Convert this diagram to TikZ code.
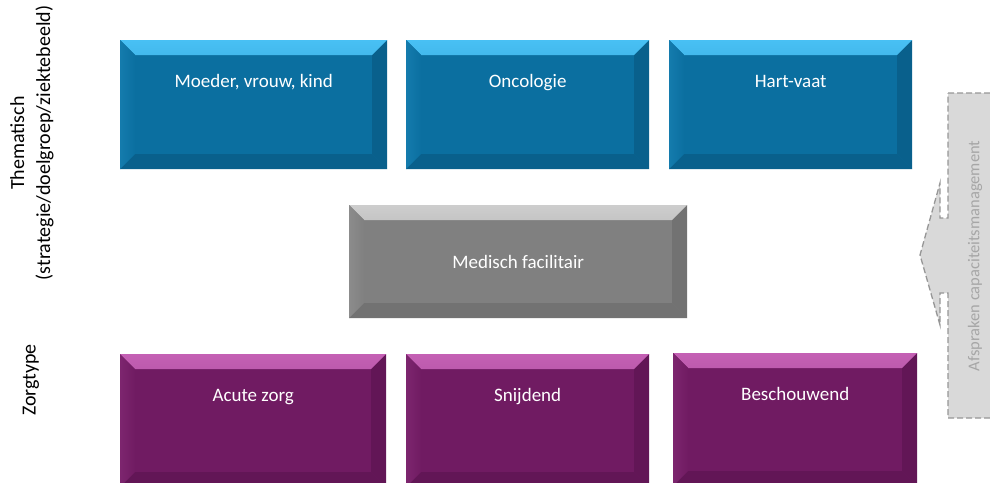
\documentclass[tikz,border=0pt]{standalone}
\usepackage{fontspec}
\setmainfont{Carlito}
\definecolor{blauw}{RGB}{11,111,160}
\definecolor{blauwlicht}{RGB}{72,192,244}
\definecolor{blauwdonker}{RGB}{9,96,140}
\definecolor{paars}{RGB}{112,27,98}
\definecolor{paarslicht}{RGB}{196,96,180}
\definecolor{paarsdonker}{RGB}{98,22,86}
\definecolor{grijs}{RGB}{128,128,128}
\definecolor{grijslicht}{RGB}{205,205,205}
\definecolor{grijsdonker}{RGB}{114,114,114}
\definecolor{pijl}{RGB}{217,217,217}
\definecolor{pijlrand}{RGB}{150,150,150}
\begin{document}
\begin{tikzpicture}[x=1pt,y=-1pt,
    bevel/.style n args={3}{fill=#1, draw=none, inner sep=0pt, text=white,
      path picture={
        \shade[top color=#2, bottom color=#1!75!#2]
          (path picture bounding box.north west)--(path picture bounding box.north east)
          --([shift={(-15pt,-15pt)}]path picture bounding box.north east)
          --([shift={(15pt,-15pt)}]path picture bounding box.north west)--cycle;
        \shade[left color=#1!85!#2, right color=#1]
          (path picture bounding box.north west)--([shift={(15pt,-15pt)}]path picture bounding box.north west)
          --([shift={(15pt,15pt)}]path picture bounding box.south west)--(path picture bounding box.south west)--cycle;
        \fill[#3]
          (path picture bounding box.north east)--(path picture bounding box.south east)
          --([shift={(-15pt,15pt)}]path picture bounding box.south east)
          --([shift={(-15pt,-15pt)}]path picture bounding box.north east)--cycle;
        \fill[#3]
          (path picture bounding box.south west)--(path picture bounding box.south east)
          --([shift={(-15pt,15pt)}]path picture bounding box.south east)
          --([shift={(15pt,15pt)}]path picture bounding box.south west)--cycle;
      }},
    blok/.style={bevel={blauw}{blauwlicht}{blauwdonker}, anchor=north west, text height=47pt, text depth=82pt},
    zorg/.style={bevel={paars}{paarslicht}{paarsdonker}, anchor=north west, text height=47pt, text depth=86pt},
    facil/.style={bevel={grijs}{grijslicht}{grijsdonker}, anchor=north west, minimum height=113pt},
    opschrift/.style={rotate=90, align=center, font=\fontsize{20}{26}\selectfont}]
  \useasboundingbox (0,0) rectangle (990,482);
  \clip (0,0) rectangle (990,482);
  \fontsize{19}{22}\selectfont
  % thematisch
  \node[blok, minimum width=267pt] (moeder) at (120,40) {Moeder, vrouw, kind};
  \node[blok, minimum width=243pt] (onco) at (406,40) {Oncologie};
  \node[blok, minimum width=243pt] (hart) at (669,40) {Hart-vaat};
  % medisch facilitair
  \node[facil, minimum width=338pt] (medfac) at (349,205) {Medisch facilitair};
  % zorgtype
  \node[zorg, minimum width=266pt] (acuut) at (120,354) {Acute zorg};
  \node[zorg, minimum width=243pt] (snij) at (406,354) {Snijdend};
  \node[zorg, minimum width=244pt] (besch) at (673,353) {Beschouwend};
  % labels links
  \node[opschrift] (thema) at (32,143) {Thematisch\\(strategie/doelgroep/ziektebeeld)};
  \node[opschrift] (zorgtype) at (31,380) {Zorgtype};
  % pijl capaciteit
  \draw[fill=pijl, draw=pijlrand, line width=1.3pt, dash pattern=on 6pt off 3pt]
    (948,93)--(1000,93)--(1000,418)--(948,418)--(948,293)--(940,293)--(940,325)
    --(920,255)--(940,183)--(940,218)--(948,218)--cycle;
  \node[rotate=90, text=pijlrand!85!white, font=\fontsize{16.5}{20}\selectfont] (afspraken) at (975,256) {Afspraken capaciteitsmanagement};
\end{tikzpicture}
\end{document}
